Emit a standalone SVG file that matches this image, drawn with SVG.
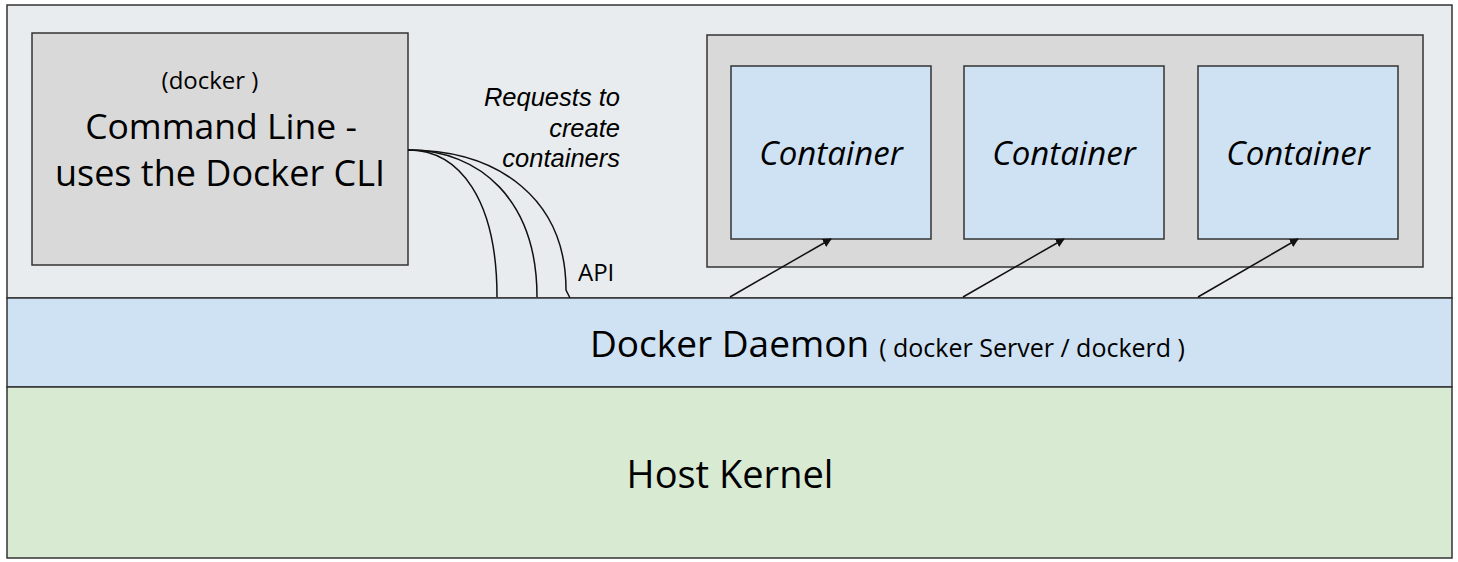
<svg xmlns="http://www.w3.org/2000/svg" width="1458" height="562" viewBox="0 0 1458 562">
<defs>
<style>
.box{stroke:#333;stroke-width:1.5}
.t{font-family:"Open Sans",sans-serif;fill:#000}
.it{font-family:"Liberation Sans",Arial,sans-serif;font-style:italic;fill:#000}
.ct{font-family:"Open Sans",sans-serif;font-style:italic;font-size:33px;text-anchor:middle;fill:#000}
.conn{fill:none;stroke:#111;stroke-width:1.5}
</style>
<marker id="ah" viewBox="0 0 10 10" refX="9" refY="5" markerWidth="9" markerHeight="9" markerUnits="userSpaceOnUse" orient="auto"><path d="M0,0 L10,5 L0,10 z" fill="#111"/></marker>
</defs>
<rect width="1458" height="562" fill="#fff"/>
<g id="host"><rect class="box" x="7" y="5" width="1445" height="293" fill="#e8ecee"/></g>
<g id="cli">
<rect class="box" x="32" y="33" width="376" height="232" fill="#d9d9d9"/>
<text class="t" x="210" y="89" font-size="24" text-anchor="middle">(docker )</text>
<text class="t" x="221" y="139" font-size="35.5" text-anchor="middle">Command Line -</text>
<text class="t" x="220" y="186" font-size="36" text-anchor="middle">uses the Docker CLI</text>
</g>
<g id="containers">
<rect class="box" x="707" y="35" width="716" height="232" fill="#d9d9d9"/>
</g>
<g id="container1"><rect class="box" x="731" y="66" width="200" height="173" fill="#cfe2f3"/><text class="ct" x="831" y="165">Container</text></g>
<g id="container2"><rect class="box" x="964" y="66" width="200" height="173" fill="#cfe2f3"/><text class="ct" x="1064" y="165">Container</text></g>
<g id="container3"><rect class="box" x="1198" y="66" width="200" height="173" fill="#cfe2f3"/><text class="ct" x="1298" y="165">Container</text></g>
<g id="daemon">
<rect class="box" x="7" y="298" width="1445" height="89" fill="#cfe2f3"/>
<text class="t" x="590" y="357"><tspan font-size="37">Docker Daemon</tspan><tspan font-size="25" dx="10">( docker Server / dockerd )</tspan></text>
</g>
<g id="kernel">
<rect class="box" x="7" y="387" width="1445" height="171" fill="#d9ead3"/>
<text class="t" x="730" y="488" font-size="38" text-anchor="middle">Host Kernel</text>
</g>
<g id="connectors">
<path class="conn" d="M408,150 C460,150 497,200 497,297"/>
<path class="conn" d="M408,150 C480,150 537,200 537,297"/>
<path class="conn" d="M408,150 C500,150 566,200 566,290 L570,298"/>
<line class="conn" x1="730" y1="297" x2="831" y2="239" marker-end="url(#ah)"/>
<line class="conn" x1="963" y1="297" x2="1064" y2="239" marker-end="url(#ah)"/>
<line class="conn" x1="1198" y1="297" x2="1298" y2="239" marker-end="url(#ah)"/>
<text class="it" x="620" y="106" font-size="25.5" text-anchor="end">Requests to</text>
<text class="it" x="620" y="137" font-size="25.5" text-anchor="end">create</text>
<text class="it" x="620" y="167" font-size="25.5" text-anchor="end">containers</text>
<text class="t" x="578" y="281" font-size="24">API</text>
</g>
</svg>
